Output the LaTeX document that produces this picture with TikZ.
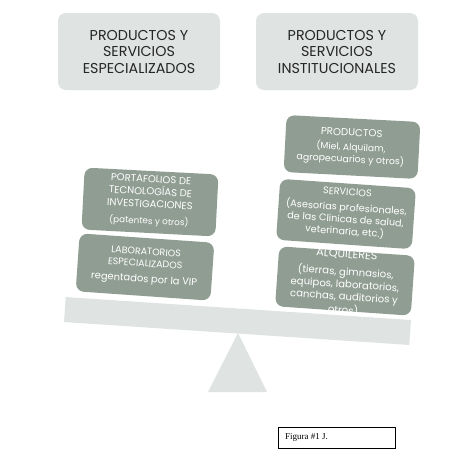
\documentclass[tikz,border=0pt]{standalone}
\usepackage{fontspec}
\setmainfont{Liberation Serif}
\newfontfamily\gothic{Poppins}
\definecolor{lightbox}{HTML}{DFE3E2}
\definecolor{greenbox}{HTML}{909D93}
\newcommand{\fs}[1]{\fontsize{#1}{12}\selectfont}
\tikzset{
  titlebox/.style={fill=lightbox, rounded corners=8pt, minimum width=162pt, minimum height=77pt,
    align=center, font=\gothic\fontsize{14.3}{16.5}\selectfont, text=black!85, inner sep=0pt},
  gbox/.style={fill=greenbox, rounded corners=8pt, inner sep=0pt},
  gtext/.style={text=white, align=center, inner sep=0pt, font=\gothic\fontsize{10}{11.5}\selectfont},
}
\begin{document}
\begin{tikzpicture}[x=1pt,y=-1pt]
\useasboundingbox[fill=white] (0,0) rectangle (472,459);

% title boxes
\node[titlebox] (tl) at (139,51.5) {PRODUCTOS Y\\SERVICIOS\\ESPECIALIZADOS};
\node[titlebox] (tr) at (337,51.5) {PRODUCTOS Y\\SERVICIOS\\INSTITUCIONALES};

% fulcrum and beam
\fill[lightbox] (238,333) -- (267,392) -- (208,392) -- cycle;
\node[fill=lightbox, rotate=-3.8, minimum width=346pt, minimum height=25pt, inner sep=0pt] (beam) at (237.5,321) {};

% left boxes
\node[gbox, rotate=-3, minimum width=134pt, minimum height=62pt] (port) at (150,202) {};
\node[gtext, rotate=-3] (portt) at (150,201) {\fs{10}PORTAFOLIOS DE\\[1pt]\fs{10}TECNOLOGÍAS DE\\[1pt]\fs{10}INVESTIGACIONES\\[5pt]\fs{8.8}(patentes y otros)};

\node[gbox, rotate=-4, minimum width=135pt, minimum height=58pt] (lab) at (145,267) {};
\node[gtext, rotate=-4] (labt) at (145,266.5) {\fs{9.5}LABORATORIOS\\[0.5pt]\fs{9.5}ESPECIALIZADOS\\[4pt]\fs{9.9}regentados por la VIP};

% right boxes
\node[gbox, rotate=-3, minimum width=134pt, minimum height=57pt] (prod) at (352,147) {};
\node[gtext, rotate=-3] (prodt) at (351,147) {\fs{10.2}PRODUCTOS\\[3pt]\fs{9.2}(Miel, Alquilam,\\[0.5pt]\fs{9.4}agropecuarios y otros)};

\node[gbox, rotate=-4, minimum width=136pt, minimum height=61pt] (serv) at (346,214) {};
\node[gtext, rotate=-4] (servt) at (346,212.5) {\fs{9.7}SERVICIOS\\[4pt]\fs{9.7}(Asesorias profesionales,\\[0.5pt]\fs{9.7}de las Clinicas de salud,\\[0.5pt]\fs{9.7}veterinaria, etc.)};

\node[gbox, rotate=-4, minimum width=136pt, minimum height=60pt] (alq) at (345,281) {};
\begin{scope}
\clip[shift={(345,281)}, rotate=-4, rounded corners=8pt] (-68,-30) rectangle (68,30);
\node[gtext, rotate=-4] (alqt) at (345,283) {\fs{11.2}ALQUILERES\\[6pt]\fs{10.1}(tierras, gimnasios,\\[0.8pt]\fs{10.1}equipos, laboratorios,\\[0.8pt]\fs{10.1}canchas, auditorios y\\[0.8pt]\fs{10.1}otros)};
\end{scope}

% caption box
\node[draw=black, line width=0.8pt, minimum width=117pt, minimum height=21pt, inner sep=0pt] (fig) at (336.5,437.5) {};
\node[anchor=west, font=\fontsize{9}{10}\selectfont, inner sep=0pt] (figt) at (285,437) {Figura \#1 J.};
\end{tikzpicture}
\end{document}
